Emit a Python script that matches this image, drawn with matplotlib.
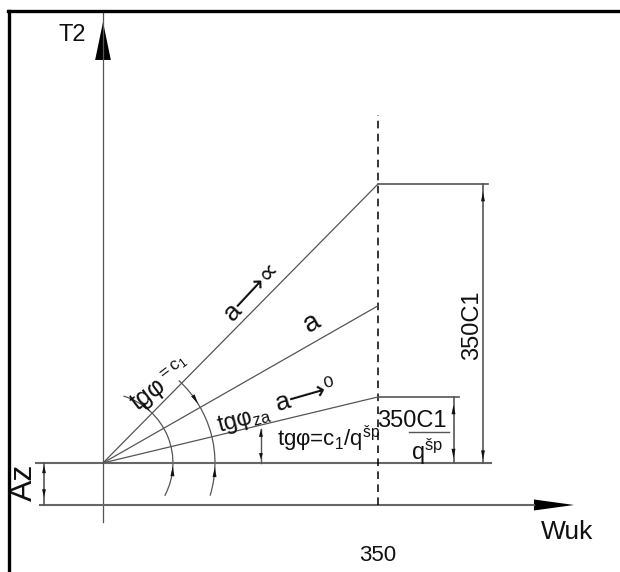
import numpy as np
import matplotlib
matplotlib.use('Agg')
import matplotlib.pyplot as plt
from matplotlib.patches import Arc, Polygon
from matplotlib.lines import Line2D

plt.rcParams['font.family'] = ['Liberation Sans', 'DejaVu Sans']
plt.rcParams['mathtext.fontset'] = 'custom'
plt.rcParams['mathtext.rm'] = 'Liberation Sans'
plt.rcParams['mathtext.it'] = 'Liberation Sans'
plt.rcParams['mathtext.bf'] = 'Liberation Sans'

# chart data (diagram units, dashed line at Wuk = 350)
W_END = 350
AZ = 53.5                      # height of the datum above the Wuk axis
line_labels = ['a⟶∝', 'a', 'a⟶⁰']
line_rise = [355, 200, 84]     # rise of each line over the datum at Wuk = 350
dim_labels = ['350C1', '350C1', 'Az']
axis_labels = ['T2', 'Wuk']
tick_label = '350'

GREY = '#555555'
INK = '#111111'


def arrowhead(ax, tip, direction, length=12.0, width=5.0, color=INK):
    d = np.asarray(direction, float)
    d = d / np.linalg.norm(d)
    n = np.array([-d[1], d[0]])
    tip = np.asarray(tip, float)
    base = tip - d * length
    pts = [tip, base + n * width / 2, base - n * width / 2]
    ax.add_patch(Polygon(pts, closed=True, facecolor=color, edgecolor='none', zorder=5))


def arc_arrow(ax, r, ang_tip, sense):
    # sense=+1 -> head points counter-clockwise
    t = np.radians(ang_tip)
    tip = (r * np.cos(t), AZ + r * np.sin(t))
    tangent = sense * np.array([-np.sin(t), np.cos(t)])
    arrowhead(ax, tip, tangent, length=13, width=5)


fig = plt.figure(figsize=(6.2, 5.72), dpi=100)
ax = fig.add_axes([0, 0, 1, 1])
ax.set_xlim(-131.1, 658.0)
ax.set_ylim(-85.3, 642.7)
ax.axis('off')

# frame
fig.add_artist(Line2D([9 / 620, 9 / 620], [0, 1 - 10.5 / 572], color='black', lw=2.4,
                      transform=fig.transFigure))
fig.add_artist(Line2D([7.5 / 620, 1], [1 - 10.5 / 572, 1 - 10.5 / 572], color='black', lw=2.4,
                      transform=fig.transFigure))

# T2 axis
ax.plot([0, 0], [-21.6, 628.7], color=GREY, lw=0.9)
ax.add_patch(Polygon([(0, 614.7), (-10, 566.4), (10, 566.4)], closed=True,
                     facecolor='black', edgecolor='none'))
ax.text(-39.5, 598, axis_labels[0], fontsize=17, ha='center', va='center', color=INK)

# Wuk axis and datum
ax.plot([-80, 549], [0, 0], color='#666666', lw=1.5)
ax.add_patch(Polygon([(599.5, 0), (548.5, 7), (548.5, -7)], closed=True,
                     facecolor='black', edgecolor='none'))
ax.text(590.6, -34.4, axis_labels[1], fontsize=19, ha='center', va='center', color=INK)
ax.plot([-85.3, 493.8], [AZ, AZ], color='#666666', lw=1.5)

# dashed guide at 350
ax.plot([W_END, W_END], [0, 496.4], color='black', lw=1.1, ls=(0, (5, 3.5)))
ax.text(W_END, -64.9, tick_label, fontsize=16, ha='center', va='center', color=INK)

# fan of lines
for rise in line_rise:
    ax.plot([0, W_END], [AZ, AZ + rise], color=GREY, lw=0.9)
angles = [np.degrees(np.arctan2(r, W_END)) for r in line_rise]

ax.text(190, 272, line_labels[0], fontsize=19, rotation=47, ha='center', va='center',
        rotation_mode='anchor', color=INK)
ax.text(266, 231, line_labels[1], fontsize=20, rotation=30, ha='center', va='center',
        rotation_mode='anchor', color=INK)
ax.text(258.4, 139, line_labels[2], fontsize=19, rotation=16, ha='center', va='center',
        rotation_mode='anchor', color=INK)

# extension lines
ax.plot([W_END, 490], [AZ + line_rise[0]] * 2, color=GREY, lw=1.2)
ax.plot([W_END, 453], [AZ + line_rise[2]] * 2, color=GREY, lw=1.2)

# big dimension
xd = 483.6
ax.plot([xd, xd], [AZ, AZ + line_rise[0]], color=GREY, lw=1.2)
arrowhead(ax, (xd, AZ + line_rise[0] - 10), (0, 1))
arrowhead(ax, (xd, AZ + 4), (0, -1))
ax.text(469.6, 229.1, dim_labels[0], fontsize=17, rotation=90, ha='center', va='center',
        color=INK)

# small dimension
xs = 446.1
ax.plot([xs, xs], [AZ, AZ + line_rise[2]], color=GREY, lw=1.2)
arrowhead(ax, (xs, AZ + line_rise[2] - 10), (0, 1))
arrowhead(ax, (xs, AZ + 6), (0, -1))
ax.text(393.3, 106.9, dim_labels[1], fontsize=17, ha='center', va='center', color=INK)
ax.plot([389.5, 440.4], [92.9, 92.9], color=GREY, lw=1.0)
ax.text(412, 67.5, r'q$^{\mathregular{šp}}$', fontsize=17, ha='center', va='center', color=INK)

# Az dimension
xa = -75.1
ax.plot([xa, xa], [0, AZ], color=GREY, lw=1.2)
arrowhead(ax, (xa, AZ - 3), (0, 1), length=10)
arrowhead(ax, (xa, 10), (0, -1), length=10)
ax.text(-101, 29.3, dim_labels[2], fontsize=23, rotation=90, ha='center', va='center',
        color=INK)

# angle arcs
r1, r2 = 89.0, 142.5
ax.add_patch(Arc((0, AZ), 2 * r1, 2 * r1, theta1=-28, theta2=73, color=GREY, lw=0.9))
ax.add_patch(Arc((0, AZ), 2 * r2, 2 * r2, theta1=-17, theta2=47.5, color=GREY, lw=0.9))
arc_arrow(ax, r1, angles[0] + 2, -1)
arc_arrow(ax, r1, -2.5, +1)
arc_arrow(ax, r2, angles[1] + 2, -1)
arc_arrow(ax, r2, -2, +1)

ax.text(75.1, 152, r'tgφ$^{\mathregular{=c_1}}$', fontsize=18, rotation=37, ha='center',
        va='center', rotation_mode='anchor', color=INK)
ax.text(179.5, 108.2, r'tgφ$_{\mathregular{za}}$', fontsize=17, rotation=15, ha='center',
        va='center', rotation_mode='anchor', color=INK)

# small angle marker
xm = 201
ax.plot([xm, xm], [AZ, 96.7], color=GREY, lw=1.0)
arrowhead(ax, (xm, 96.7), (0, 1), length=10)
arrowhead(ax, (xm, 58), (0, -1), length=8)
ax.text(287, 84, r'tgφ=c$_{\mathregular{1}}$/q$^{\mathregular{šp}}$', fontsize=16,
        ha='center', va='center', color=INK)

fig.savefig('out.png', dpi=100)
